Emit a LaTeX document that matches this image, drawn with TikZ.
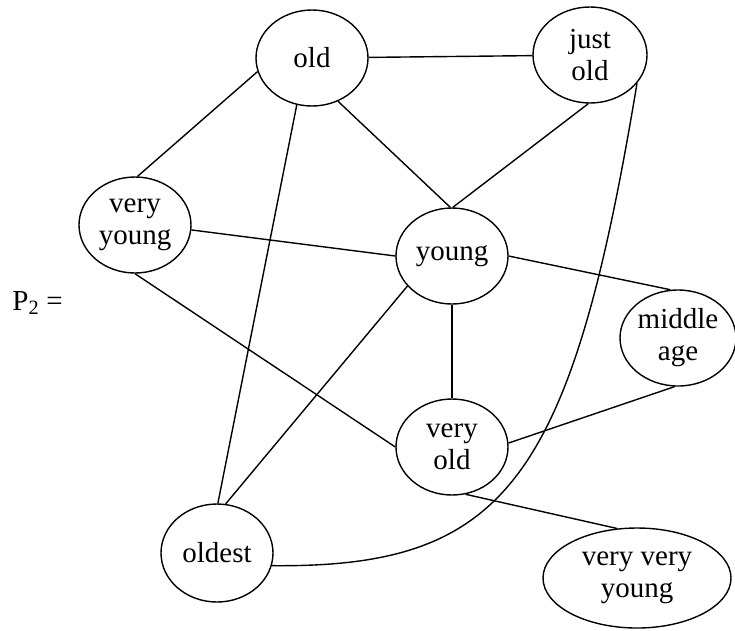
\documentclass[tikz,border=0pt]{standalone}
\usepackage{fontspec}
\setmainfont{Liberation Serif}
\usetikzlibrary{shapes.geometric}
\begin{document}
\begin{tikzpicture}[x=1pt,y=-1pt,
  ell/.style={draw, ellipse, line width=1.4pt, inner sep=0pt,
    minimum width=112pt, minimum height=96pt, align=center,
    font=\fontsize{29}{32}\selectfont},
  link/.style={line width=1.4pt},
  lbl/.style={font=\fontsize{29}{32}\selectfont, inner sep=0pt}]
\useasboundingbox (0,0) rectangle (735,630);

% nodes of the graph
\node[ell] (old) at (312,58) {old};
\node[ell, minimum width=114pt] (justold) at (590,55) {just\\old};
\node[ell] (vyoung) at (135,225) {very\\young};
\node[ell] (young) at (452,256) {young};
\node[ell, minimum width=116pt] (middle) at (678,338) {middle\\age};
\node[ell] (vold) at (452,447) {very\\old};
\node[ell, minimum height=98pt] (oldest) at (217,553) {oldest};
\node[ell, minimum width=188pt, minimum height=100pt] (vvyoung) at (637,578) {very very\\young};

% label of the graph
\node[lbl, anchor=east] (ptwo) at (63,303) {P\textsubscript{2} =};

% edges
\draw[link] (old) -- (justold);
\draw[link] (old.194.5) -- (vyoung.87);
\draw[link] (old.301) -- (young.92);
\draw[link] (old.252.6) -- (oldest.89);
\draw[link] (justold.268) -- (young.89);
\draw[link] (justold.329) .. controls (571,482) and (505,568) .. (oldest.347.5);
\draw[link] (vyoung.355.6) -- (young.180);
\draw[link] (vyoung.270) -- (vold.180);
\draw[link] (young.0) -- (middle.99);
\draw[link] (young.270) -- (vold.90);
\draw[link] (young.214.6) -- (oldest.80.5);
\draw[link] (middle.266) -- (vold.4.8);
\draw[link] (vold.286) -- (vvyoung.112);
\end{tikzpicture}
\end{document}
